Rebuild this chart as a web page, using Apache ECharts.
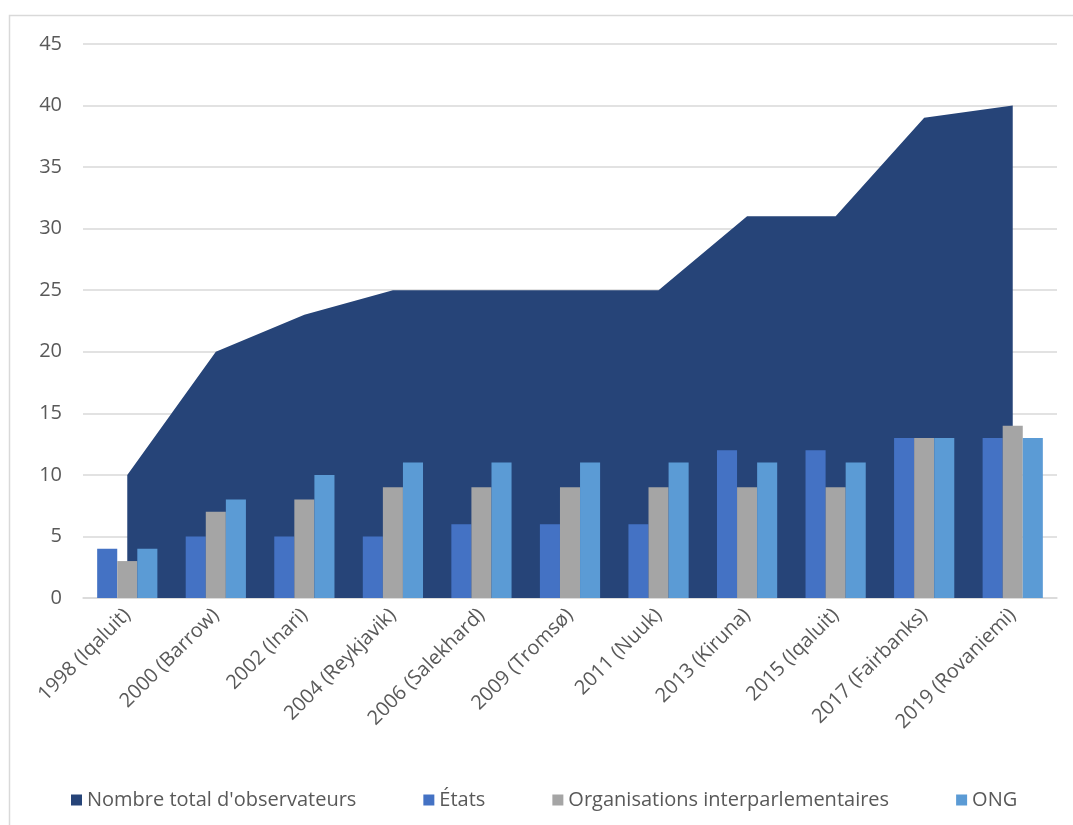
<!DOCTYPE html>
<html><head><meta charset="utf-8">
<script src="https://cdn.jsdelivr.net/npm/echarts@6/dist/echarts.min.js"></script>
<style>html,body{margin:0;padding:0;background:#fff}#c{width:1073px;height:825px}</style>
</head><body><div id="c"></div>
<script>
const categories = ['1998 (Iqaluit)','2000 (Barrow)','2002 (Inari)','2004 (Reykjavik)','2006 (Salekhard)','2009 (Tromsø)','2011 (Nuuk)','2013 (Kiruna)','2015 (Iqaluit)','2017 (Fairbanks)','2019 (Rovaniemi)'];
const totalObservateurs = [10,20,23,25,25,25,25,31,31,39,40];
const etats = [4,5,5,5,6,6,6,12,12,13,13];
const orgInterparl = [3,7,8,9,9,9,9,9,9,13,14];
const ong = [4,8,10,11,11,11,11,11,11,13,13];
const yTicks = {min:0, max:45, interval:5};

const chart = echarts.init(document.getElementById('c'));
const font = 'Open Sans, sans-serif';
chart.setOption({
  animation:false,
  textStyle:{fontFamily:font},
  graphic:[{type:'rect',shape:{x:9.5,y:15.5,width:1070,height:820},style:{fill:'none',stroke:'#d9d9d9',lineWidth:1.5}}],
  grid:{left:83,right:16,top:44,bottom:227},
  legend:{bottom:10,left:66,itemWidth:11,itemHeight:11,itemGap:67,icon:'rect',
    textStyle:{fontSize:20,color:'#595959',fontFamily:font},
    data:["Nombre total d'observateurs",'États','Organisations interparlementaires','ONG']},
  xAxis:{type:'category',data:categories,boundaryGap:true,
    axisLine:{lineStyle:{color:'#d9d9d9',width:1.5}},axisTick:{show:false},
    axisLabel:{rotate:45,fontSize:20,color:'#595959',margin:14,interval:0}},
  yAxis:{type:'value',min:yTicks.min,max:yTicks.max,interval:yTicks.interval,
    axisLine:{show:false},axisTick:{show:false},
    axisLabel:{fontSize:20,color:'#595959',margin:21},
    splitLine:{lineStyle:{color:'#d9d9d9',width:1.5}}},
  series:[
    {name:"Nombre total d'observateurs",type:'line',data:totalObservateurs,symbol:'none',
      lineStyle:{width:0,color:'#264478'},itemStyle:{color:'#264478'},areaStyle:{color:'#264478',opacity:1},z:1},
    {name:'États',type:'bar',data:etats,itemStyle:{color:'#4472C4'},barGap:'0%',barCategoryGap:'32%',z:3},
    {name:'Organisations interparlementaires',type:'bar',data:orgInterparl,itemStyle:{color:'#A5A5A5'},z:3},
    {name:'ONG',type:'bar',data:ong,itemStyle:{color:'#5B9BD5'},z:3}
  ]
});
</script></body></html>
